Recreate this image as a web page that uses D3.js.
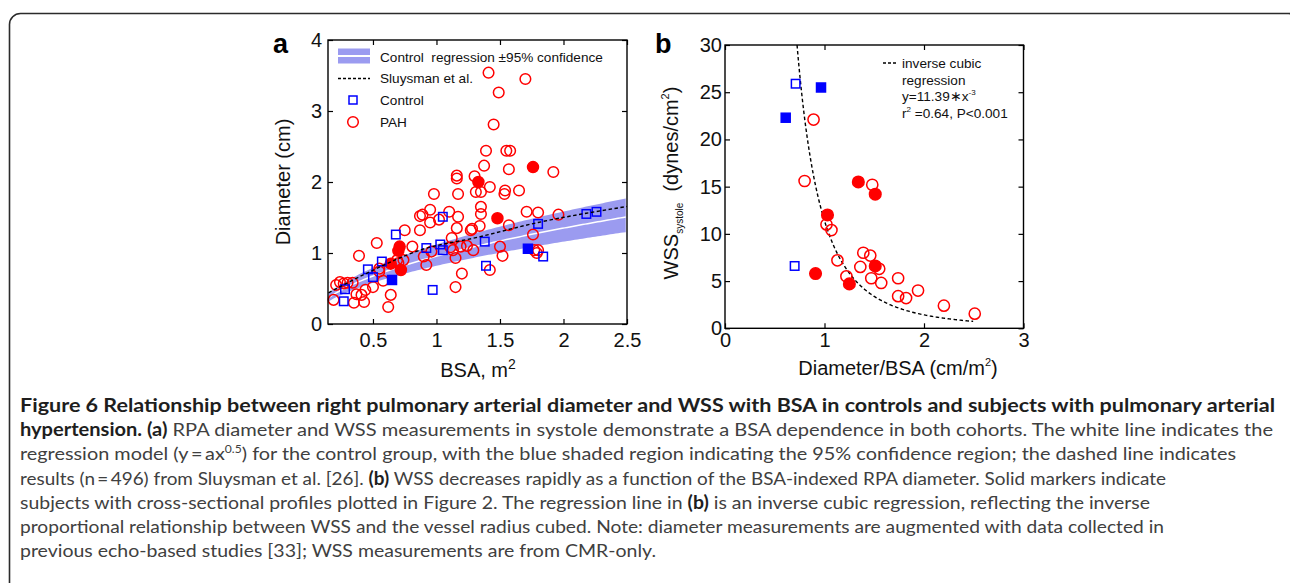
<!DOCTYPE html>
<meta charset="utf-8">
<style>
body { margin: 0; background: #fff; }
svg { display: block; font-family: Arial, "Liberation Sans", sans-serif; }
.frame { fill: none; stroke: #000; stroke-width: 1.4px; }
.tick line { stroke: #000; stroke-width: 1.2px; }
.domain { display: none; }
.tick text { font-size: 20px; fill: #111; font-family: Arial, "Liberation Sans", sans-serif; }
.lab { font-size: 20px; fill: #111; }
.leg { font-size: 13.6px; fill: #111; }
.caption { font-family: Lato, "Open Sans", sans-serif; font-size: 18px; fill: #404040; }
.caption .b { font-weight: bold; fill: #1e1e1e; }
</style>
<body>
<svg width="1290" height="583"></svg>
<script src="https://d3js.org/d3.v7.min.js"></script>
<script>
// panel a: RPA diameter vs BSA
var pahBSA  = [0.19, 0.21, 0.24, 0.27, 0.30, 0.34, 0.35, 0.39, 0.37, 0.41, 0.43, 0.44, 0.50, 0.53, 0.55, 0.58, 0.62, 0.64, 0.55,
               0.69, 0.74, 0.75, 0.81, 0.87, 0.89, 0.87, 0.95, 0.98, 0.95, 0.90, 0.92, 0.96, 1.02, 1.10, 1.16, 1.16, 1.17,
               1.16, 1.17, 1.13, 1.15, 1.20, 1.15, 1.11, 1.19, 1.24, 1.27, 1.29, 1.30, 1.31, 1.35, 1.35, 1.35, 1.34, 1.28,
               1.39, 1.375, 1.41, 1.45, 1.49, 1.70, 1.55, 1.58, 1.57, 1.92, 1.42, 1.54, 1.535, 1.65, 1.71, 1.80, 1.96, 1.57,
               1.76, 1.50, 1.52, 1.42, 1.77, 1.80, 1.79, 1.12, 0.70];
var pahDiam = [0.34, 0.55, 0.59, 0.57, 0.58, 0.58, 0.30, 0.96, 0.42, 0.41, 0.31, 0.48, 0.52, 1.14, 0.74, 0.61, 0.24, 0.41, 0.78,
               0.90, 0.90, 1.32, 1.09, 1.52, 1.54, 1.32, 1.61, 1.83, 1.43, 0.95, 0.83, 1.02, 1.47, 1.58, 2.09, 2.05, 1.83,
               1.35, 1.51, 1.04, 0.93, 0.71, 0.52, 1.08, 1.09, 1.10, 1.32, 1.04, 2.08, 1.86, 1.86, 1.65, 1.55, 1.38, 1.34,
               2.44, 2.23, 3.54, 2.81, 3.26, 3.45, 2.44, 2.44, 2.18, 2.14, 1.93, 1.88, 1.83, 1.88, 1.58, 1.57, 1.54, 1.39,
               1.26, 1.09, 0.96, 0.76, 1.04, 1.04, 1.00, 1.21, 0.86];
var pahSolidBSA  = [0.64, 0.70, 0.71, 0.72, 1.33, 1.48, 1.76];
var pahSolidDiam = [0.85, 1.03, 1.09, 0.76, 2.00, 1.49, 2.21];
var ctrlBSA  = [0.27, 0.28, 0.46, 0.50, 0.57, 0.68, 0.92, 0.97, 1.03, 1.05, 1.05, 1.38, 1.39, 1.80, 1.84, 2.18, 2.26];
var ctrlDiam = [0.32, 0.49, 0.77, 0.66, 0.88, 1.26, 1.07, 0.48, 1.12, 1.04, 1.51, 1.16, 0.82, 1.41, 0.95, 1.55, 1.58];
var ctrlSolidBSA  = [0.65, 1.72];
var ctrlSolidDiam = [0.62, 1.06];
var sluysmanBSA  = [0.15, 0.48, 0.87, 1.32, 1.80, 2.18, 2.50];
var sluysmanDiam = [0.44, 0.74, 1.04, 1.22, 1.43, 1.56, 1.655];
// control regression y = a*x^0.5 with 95% band on a
var ctrlA = 0.955, ctrlALo = 0.82, ctrlAHi = 1.12;
var bsaTicks = [0.5, 1, 1.5, 2, 2.5];
var diamTicks = [0, 1, 2, 3, 4];

// panel b: WSS vs diameter/BSA
var wssPahX = [0.80, 1.48, 1.02, 1.07, 1.13, 1.39, 1.46, 1.36, 1.55, 1.47, 1.57, 1.74, 1.74, 1.82, 1.94, 2.20, 2.51, 1.22, 0.89];
var wssPahY = [15.6, 15.2, 11.0, 10.4, 7.2, 8.0, 7.7, 6.5, 6.3, 5.3, 4.8, 5.3, 3.4, 3.2, 4.0, 2.4, 1.55, 5.5, 22.1];
var wssPahSolidX = [1.03, 1.34, 1.51, 1.51, 1.25, 0.91];
var wssPahSolidY = [12.0, 15.5, 14.2, 6.6, 4.7, 5.8];
var wssCtrlX = [0.71, 0.70];
var wssCtrlY = [25.9, 6.6];
var wssCtrlSolidX = [0.965, 0.61];
var wssCtrlSolidY = [25.5, 22.3];
var invCubicA = 11.39;
var ratioTicks = [0, 1, 2, 3];
var wssTicks = [0, 5, 10, 15, 20, 25, 30];

var RED = "#ff0000", BLUE = "#0000ff", BAND = "#9b9bf0";
var svg = d3.select("svg");

// outer rounded border
svg.append("rect")
    .attr("x", 9.5).attr("y", 13.5).attr("width", 1290).attr("height", 620)
    .attr("rx", 11)
    .attr("fill", "none").attr("stroke", "#2b2b2b").attr("stroke-width", 1.6);

function zip(a, b) { return a.map(function(v, i) { return [v, b[i]]; }); }

function drawAxes(g, x, y, xTicks, yTicks, xFmt, padX, padY) {
  var x0 = x.range()[0], x1 = x.range()[1], y0 = y.range()[0], y1 = y.range()[1];
  g.append("g").attr("transform", "translate(0," + y0 + ")")
      .call(d3.axisBottom(x).tickValues(xTicks).tickFormat(xFmt).tickSizeInner(-5).tickSizeOuter(0).tickPadding(padX));
  g.append("g").attr("transform", "translate(0," + y1 + ")")
      .call(d3.axisTop(x).tickValues(xTicks).tickFormat("").tickSizeInner(-5).tickSizeOuter(0));
  g.append("g").attr("transform", "translate(" + x0 + ",0)")
      .call(d3.axisLeft(y).tickValues(yTicks).tickFormat(d3.format("d")).tickSizeInner(-5).tickSizeOuter(0).tickPadding(padY));
  g.append("g").attr("transform", "translate(" + x1 + ",0)")
      .call(d3.axisRight(y).tickValues(yTicks).tickFormat("").tickSizeInner(-5).tickSizeOuter(0));
  g.append("rect").attr("class", "frame")
      .attr("x", x0).attr("y", y1).attr("width", x1 - x0).attr("height", y0 - y1);
}

function circles(g, pts, x, y, r, filled) {
  g.selectAll(null).data(pts).enter().append("circle")
      .attr("cx", function(d) { return x(d[0]); })
      .attr("cy", function(d) { return y(d[1]); })
      .attr("r", r)
      .attr("fill", filled ? RED : "none")
      .attr("stroke", RED).attr("stroke-width", 1.5);
}

function squares(g, pts, x, y, s, filled) {
  g.selectAll(null).data(pts).enter().append("rect")
      .attr("x", function(d) { return x(d[0]) - s / 2; })
      .attr("y", function(d) { return y(d[1]) - s / 2; })
      .attr("width", s).attr("height", s)
      .attr("fill", filled ? BLUE : "none")
      .attr("stroke", BLUE).attr("stroke-width", 1.5);
}

// ---------- panel a ----------
var xa = d3.scaleLinear().domain([0.146, 2.5]).range([328, 627]);
var ya = d3.scaleLinear().domain([0, 4]).range([324, 40]);
var ga = svg.append("g");

var bandX = d3.range(0.15, 2.5001, 0.02);
ga.append("path")
    .datum(bandX)
    .attr("fill", BAND)
    .attr("d", d3.area()
        .x(function(d) { return xa(d); })
        .y0(function(d) { return ya(ctrlALo * Math.sqrt(d)); })
        .y1(function(d) { return ya(ctrlAHi * Math.sqrt(d)); }));
ga.append("path")
    .datum(bandX)
    .attr("fill", "none").attr("stroke", "#fff").attr("stroke-width", 1.5)
    .attr("d", d3.line()
        .x(function(d) { return xa(d); })
        .y(function(d) { return ya(ctrlA * Math.sqrt(d)); }));

circles(ga, zip(pahBSA, pahDiam), xa, ya, 5.3, false);
circles(ga, zip(pahSolidBSA, pahSolidDiam), xa, ya, 5.5, true);
squares(ga, zip(ctrlBSA, ctrlDiam), xa, ya, 8.5, false);
squares(ga, zip(ctrlSolidBSA, ctrlSolidDiam), xa, ya, 9, true);

ga.append("path")
    .datum(zip(sluysmanBSA, sluysmanDiam))
    .attr("fill", "none").attr("stroke", "#000").attr("stroke-width", 1.4)
    .attr("stroke-dasharray", "3.5,2.5")
    .attr("d", d3.line()
        .x(function(d) { return xa(d[0]); })
        .y(function(d) { return ya(d[1]); })
        .curve(d3.curveMonotoneX));

drawAxes(ga, xa, ya, bsaTicks, diamTicks, function(d) { return d3.format("")(d); }, 9, 6);

// legend a
var la = ga.append("g");
la.append("rect").attr("x", 338).attr("y", 48.5).attr("width", 32).attr("height", 15).attr("fill", BAND);
la.append("line").attr("x1", 338).attr("x2", 370).attr("y1", 56).attr("y2", 56).attr("stroke", "#fff").attr("stroke-width", 2);
la.append("line").attr("x1", 338).attr("x2", 370).attr("y1", 78.5).attr("y2", 78.5)
    .attr("stroke", "#000").attr("stroke-width", 1.4).attr("stroke-dasharray", "3,2");
la.append("rect").attr("x", 349).attr("y", 96).attr("width", 8).attr("height", 8)
    .attr("fill", "none").attr("stroke", BLUE).attr("stroke-width", 1.5);
la.append("circle").attr("cx", 353).attr("cy", 122).attr("r", 5.3)
    .attr("fill", "none").attr("stroke", RED).attr("stroke-width", 1.5);
[["Control  regression \u00b195% confidence", 57], ["Sluysman et al.", 78.5], ["Control", 100], ["PAH", 122]]
  .forEach(function(t) {
    la.append("text").attr("class", "leg").attr("x", 380).attr("y", t[1]).attr("dy", "0.35em")
        .attr("xml:space", "preserve").text(t[0]);
  });

ga.append("text").attr("class", "lab").attr("x", 478).attr("y", 377).attr("text-anchor", "middle")
    .text("BSA, m").append("tspan").attr("font-size", 14).attr("dy", -8).text("2");
ga.append("text").attr("class", "lab").attr("text-anchor", "middle")
    .attr("transform", "translate(290,182) rotate(-90)").text("Diameter (cm)");
ga.append("text").attr("x", 273).attr("y", 53).attr("font-size", 27).attr("font-weight", "bold").text("a");

// ---------- panel b ----------
var xb = d3.scaleLinear().domain([0, 3]).range([725, 1023.5]);
var yb = d3.scaleLinear().domain([0, 30]).range([328.3, 45]);
var gb = svg.append("g");

var fitX = d3.range(Math.cbrt(invCubicA / 30), 2.5001, 0.01);
gb.append("path")
    .datum(fitX)
    .attr("fill", "none").attr("stroke", "#000").attr("stroke-width", 1.4)
    .attr("stroke-dasharray", "3.5,2.5")
    .attr("d", d3.line()
        .x(function(d) { return xb(d); })
        .y(function(d) { return yb(invCubicA / (d * d * d)); }));

circles(gb, zip(wssPahX, wssPahY), xb, yb, 5.6, false);
circles(gb, zip(wssPahSolidX, wssPahSolidY), xb, yb, 5.8, true);
squares(gb, zip(wssCtrlX, wssCtrlY), xb, yb, 8.5, false);
squares(gb, zip(wssCtrlSolidX, wssCtrlSolidY), xb, yb, 9, true);

drawAxes(gb, xb, yb, ratioTicks, wssTicks, d3.format("d"), 5, 3);

var lb = gb.append("g");
lb.append("line").attr("x1", 883).attr("x2", 897).attr("y1", 63).attr("y2", 63)
    .attr("stroke", "#000").attr("stroke-width", 1.4).attr("stroke-dasharray", "3,2");
lb.append("text").attr("class", "leg").attr("x", 902).attr("y", 63).attr("dy", "0.35em").text("inverse cubic");
lb.append("text").attr("class", "leg").attr("x", 902).attr("y", 80).attr("dy", "0.35em").text("regression");
var t3 = lb.append("text").attr("class", "leg").attr("x", 902).attr("y", 96.7).attr("dy", "0.35em");
t3.append("tspan").text("y=11.39\u2217x");
t3.append("tspan").attr("font-size", 8).attr("dy", -6).text("-3");
var t4 = lb.append("text").attr("class", "leg").attr("x", 902).attr("y", 113.3).attr("dy", "0.35em");
t4.append("tspan").text("r");
t4.append("tspan").attr("font-size", 8).attr("dy", -6).text("2");
t4.append("tspan").attr("dy", 6).attr("xml:space", "preserve").text(" =0.64, P<0.001");

gb.append("text").attr("class", "lab").attr("x", 898).attr("y", 375).attr("text-anchor", "middle")
    .call(function(t) {
      t.append("tspan").text("Diameter/BSA (cm/m");
      t.append("tspan").attr("font-size", 11).attr("dy", -9).text("2");
      t.append("tspan").attr("dy", 9).text(")");
    });
gb.append("text").attr("class", "lab").attr("text-anchor", "middle")
    .attr("transform", "translate(678,183) rotate(-90)")
    .call(function(t) {
      t.append("tspan").text("WSS");
      t.append("tspan").attr("font-size", 10).attr("dy", 5).text("systole");
      t.append("tspan").attr("dy", -5).attr("xml:space", "preserve").text("  (dynes/cm");
      t.append("tspan").attr("font-size", 11).attr("dy", -9).text("2");
      t.append("tspan").attr("dy", 9).text(")");
    });
gb.append("text").attr("x", 655).attr("y", 53).attr("font-size", 27).attr("font-weight", "bold").text("b");

// ---------- caption ----------
var captionLines = [
  [["Figure 6 Relationship between right pulmonary arterial diameter and WSS with BSA in controls and subjects with pulmonary arterial", "b"]],
  [["hypertension. (a)", "b"], [" RPA diameter and WSS measurements in systole demonstrate a BSA dependence in both cohorts. The white line indicates the"]],
  [["regression model (y\u2009=\u2009ax"], ["0.5", "sup"], [") for the control group, with the blue shaded region indicating the 95% confidence region; the dashed line indicates"]],
  [["results (n\u2009=\u2009496) from Sluysman et al. [26]. "], ["(b)", "b"], [" WSS decreases rapidly as a function of the BSA-indexed RPA diameter. Solid markers indicate"]],
  [["subjects with cross-sectional profiles plotted in Figure 2. The regression line in "], ["(b)", "b"], [" is an inverse cubic regression, reflecting the inverse"]],
  [["proportional relationship between WSS and the vessel radius cubed. Note: diameter measurements are augmented with data collected in"]],
  [["previous echo-based studies [33]; WSS measurements are from CMR-only."]]
];
var captionEnds = [1275, 1273, 1236, 1166, 1150, 1164, 656];

var cap = svg.append("g").attr("class", "caption");
captionLines.forEach(function(line, i) {
  var t = cap.append("text").attr("x", 20).attr("y", 412 + i * 24.2)
      .attr("textLength", captionEnds[i] - 20).attr("lengthAdjust", "spacingAndGlyphs");
  line.forEach(function(seg) {
    var s = t.append("tspan").attr("xml:space", "preserve").text(seg[0]);
    if (seg[1] === "b") s.attr("class", "b");
    if (seg[1] === "sup") s.attr("font-size", 11).attr("dy", -7);
    if (i === 2 && seg[0].charAt(0) === ")") s.attr("dy", 7);
  });
});
</script>
</body>
